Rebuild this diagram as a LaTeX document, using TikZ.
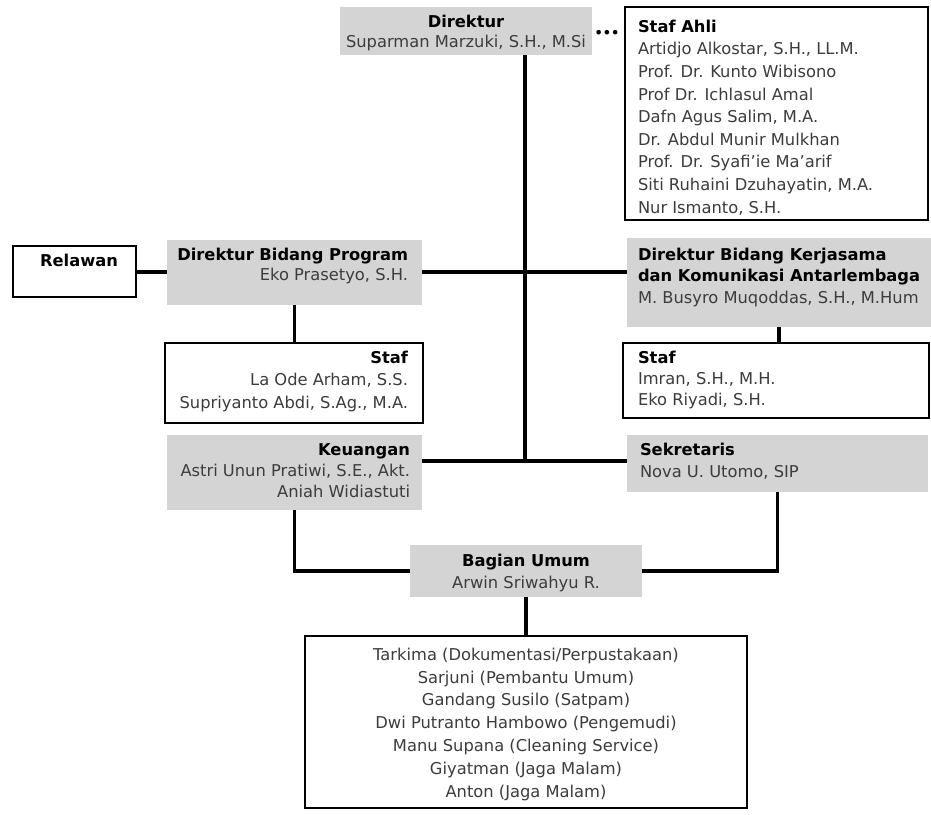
\documentclass[tikz,border=0pt]{standalone}
\usepackage{fontspec}
\setmainfont{DejaVu Sans}
\usetikzlibrary{positioning}
\definecolor{boxgray}{RGB}{212,212,212}
\definecolor{nametext}{RGB}{60,60,60}
\tikzset{
  graybox/.style={rectangle, fill=boxgray, draw=none, inner sep=0pt, outer sep=0pt, anchor=north west},
  whitebox/.style={rectangle, fill=white, draw=black, line width=1.8pt, inner sep=0pt, outer sep=0pt, anchor=north west},
  txt/.style={inner sep=0pt, outer sep=0pt, text=nametext},
  conn/.style={line width=3.2pt, draw=black},
}
\newcommand{\hd}[1]{\textbf{\color{black}#1}}
\newcommand{\fs}[1]{\fontsize{16.3}{#1}\selectfont}
\newcommand{\apos}{{\char"0027}}
\begin{document}
\begin{tikzpicture}[x=1pt,y=-1pt]
\useasboundingbox[fill=white] (0,0) rectangle (931,814);

% boxes
\node[graybox, minimum width=252pt, minimum height=48pt] (dir) at (340,7) {};
\node[whitebox, minimum width=303pt, minimum height=213pt] (ahli) at (625,7) {};
\node[whitebox, minimum width=123pt, minimum height=51pt] (rel) at (13,246) {};
\node[graybox, minimum width=255pt, minimum height=65pt] (dbp) at (167,240) {};
\node[graybox, minimum width=304pt, minimum height=89pt] (dbk) at (627,238) {};
\node[whitebox, minimum width=258pt, minimum height=80pt] (stafl) at (165,343) {};
\node[whitebox, minimum width=306pt, minimum height=75pt] (stafr) at (623,343) {};
\node[graybox, minimum width=255pt, minimum height=75pt] (keu) at (167,435) {};
\node[graybox, minimum width=301pt, minimum height=57pt] (sek) at (627,435) {};
\node[graybox, minimum width=232pt, minimum height=52pt] (bu) at (410,545) {};
\node[whitebox, minimum width=442pt, minimum height=172pt] (bot) at (305,636) {};

% texts (base anchor = baseline of the last line)
\node[txt, anchor=base, align=center, font=\fs{20}] (dirT) at (466,47) {\hd{Direktur}\\Suparman Marzuki, S.H., M.Si};
\node[txt, anchor=base, font=\bfseries\fontsize{13}{13}\selectfont, text=black] (dots) at (607,37) {•••};
\node[txt, anchor=base west, align=left, font=\fs{22.6}] (ahliT) at (638,213) {\hd{Staf Ahli}\\Artidjo Alkostar, S.H., LL.M.\\Prof. Dr. Kunto Wibisono\\Prof Dr. Ichlasul Amal\\Dafn Agus Salim, M.A.\\Dr. Abdul Munir Mulkhan\\Prof. Dr. Syafi\apos ie Ma\apos arif\\Siti Ruhaini Dzuhayatin, M.A.\\Nur Ismanto, S.H.};
\node[txt, anchor=base, font=\fs{20}] (relT) at (79,266) {\hd{Relawan}};
\node[txt, anchor=base east, align=right, font=\fs{20}] (dbpT) at (408,280) {\hd{Direktur Bidang Program}\\Eko Prasetyo, S.H.};
\node[txt, anchor=base west, align=left, font=\fs{21.5}] (dbkT) at (638,303) {\hd{Direktur Bidang Kerjasama}\\\hd{dan Komunikasi Antarlembaga}\\M. Busyro Muqoddas, S.H., M.Hum};
\node[txt, anchor=base east, align=right, font=\fs{22.5}] (staflT) at (408,408) {\hd{Staf}\\La Ode Arham, S.S.\\Supriyanto Abdi, S.Ag., M.A.};
\node[txt, anchor=base west, align=left, font=\fs{21}] (stafrT) at (638,405) {\hd{Staf}\\Imran, S.H., M.H.\\Eko Riyadi, S.H.};
\node[txt, anchor=base east, align=right, font=\fs{21}] (keuT) at (410,497) {\hd{Keuangan}\\Astri Unun Pratiwi, S.E., Akt.\\Aniah Widiastuti};
\node[txt, anchor=base west, align=left, font=\fs{22}] (sekT) at (640,477) {\hd{Sekretaris}\\Nova U. Utomo, SIP};
\node[txt, anchor=base, align=center, font=\fs{22}] (buT) at (526,588) {\hd{Bagian Umum}\\Arwin Sriwahyu R.};
\node[txt, anchor=base, align=center, font=\fs{22.8}] (botT) at (526,797) {Tarkima (Dokumentasi/Perpustakaan)\\Sarjuni (Pembantu Umum)\\Gandang Susilo (Satpam)\\Dwi Putranto Hambowo (Pengemudi)\\Manu Supana (Cleaning Service)\\Giyatman (Jaga Malam)\\Anton (Jaga Malam)};

% connectors
\coordinate (hub) at (525,461);
\coordinate (mid) at (525,272);
\draw[conn] (dir.south -| hub) -- (hub);
\draw[conn] (rel.east |- mid) -- (dbp.west |- mid);
\draw[conn] (dbp.east |- mid) -- (dbk.west |- mid);
\draw[conn] (keu.east |- hub) -- (sek.west |- hub);
\draw[conn] (dbp.south) -- (stafl.north -| dbp.south);
\draw[conn] (dbk.south) -- (stafr.north -| dbk.south);
\draw[conn] (keu.south) |- (bu.west);
\draw[conn] (sek.south) |- (bu.east);
\draw[conn] (bu.south) -- (bot.north);
\end{tikzpicture}
\end{document}
